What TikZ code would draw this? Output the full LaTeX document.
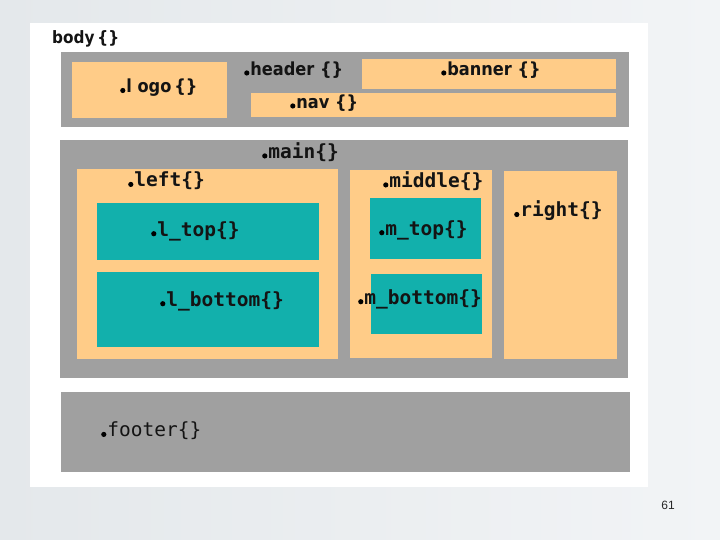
\documentclass[tikz,border=0pt]{standalone}
\usepackage{fontspec}
\setmainfont{DejaVu Sans}
\newfontfamily\condf{DejaVu Sans Condensed}
\newfontfamily\monof{DejaVu Sans Mono}
\newfontfamily\numf{Liberation Sans}
\definecolor{boxgray}{HTML}{A0A0A0}
\definecolor{peach}{HTML}{FFCC88}
\definecolor{teal2}{HTML}{12B0AC}
\definecolor{bgA}{HTML}{E4E8EB}
\definecolor{bgB}{HTML}{F2F4F6}
\newcommand\bdot{\tikz[baseline=0pt]\fill[black] (2.4pt,2.4pt) circle (2.6pt);\kern1pt}
\tikzset{
  blk/.style={anchor=north west, inner sep=0pt, outer sep=0pt, draw=none},
  graybox/.style={blk, fill=boxgray},
  peachbox/.style={blk, fill=peach},
  tealbox/.style={blk, fill=teal2},
  lbl/.style={anchor=west, inner sep=0pt, text=black!92},
  sanslbl/.style={lbl, font=\condf\bfseries\fontsize{18}{20}\selectfont},
  monolbl/.style={lbl, font=\monof\bfseries\fontsize{19.5}{21}\selectfont},
}
\begin{document}
\begin{tikzpicture}[x=1pt,y=-1pt]
\useasboundingbox (0,0) rectangle (720,540);
\shade[left color=bgA, right color=bgB] (0,0) rectangle (720,540);
% white panel
\node[blk, fill=white, minimum width=618pt, minimum height=464pt] (panel) at (30,23) {};
\node[anchor=west, inner sep=0pt, text=black!92, font=\condf\bfseries\fontsize{17}{20}\selectfont] (body) at (52,39) {body\,\{\}};
% header
\node[graybox, minimum width=568pt, minimum height=75pt] (header) at (61,52) {};
\node[peachbox, minimum width=155pt, minimum height=56pt] (logo) at (72,62) {};
\node[peachbox, minimum width=254pt, minimum height=30pt] (banner) at (362,59) {};
\node[peachbox, minimum width=365pt, minimum height=24pt] (nav) at (251,93) {};
\node[sanslbl] (logoT) at (120,88) {\bdot l ogo\,\{\}};
\node[sanslbl] (headerT) at (244,70) {\bdot header \{\}};
\node[sanslbl] (bannerT) at (441,70) {\bdot banner \{\}};
\node[sanslbl] (navT) at (290,103) {\bdot nav \{\}};
% main
\node[graybox, minimum width=568pt, minimum height=238pt] (main) at (60,140) {};
\node[peachbox, minimum width=261pt, minimum height=190pt] (left) at (77,169) {};
\node[tealbox, minimum width=222pt, minimum height=57pt] (ltop) at (97,203) {};
\node[tealbox, minimum width=222pt, minimum height=75pt] (lbottom) at (97,272) {};
\node[peachbox, minimum width=142pt, minimum height=188pt] (middle) at (350,170) {};
\node[tealbox, minimum width=111pt, minimum height=61pt] (mtop) at (370,198) {};
\node[tealbox, minimum width=111pt, minimum height=60pt] (mbottom) at (371,274) {};
\node[peachbox, minimum width=113pt, minimum height=188pt] (right) at (504,171) {};
\node[monolbl] (mainT) at (262,152) {\bdot main\{\}};
\node[monolbl] (leftT) at (128,181) {\bdot left\{\}};
\node[monolbl] (ltopT) at (151,231) {\bdot l\_top\{\}};
\node[monolbl] (lbottomT) at (160,301) {\bdot l\_bottom\{\}};
\node[monolbl] (middleT) at (383,181) {\bdot middle\{\}};
\node[monolbl] (mtopT) at (379,230) {\bdot m\_top\{\}};
\node[monolbl] (mbottomT) at (358,299) {\bdot m\_bottom\{\}};
\node[monolbl] (rightT) at (514,211) {\bdot right\{\}};
% footer
\node[graybox, minimum width=569pt, minimum height=80pt] (footer) at (61,392) {};
\node[lbl, font=\monof\fontsize{19.5}{21}\selectfont] (footerT) at (101,431) {\bdot footer\{\}};
% page number
\node[anchor=center, inner sep=0pt, font=\numf\fontsize{12}{14}\selectfont, text=black!85] (pnum) at (668,505) {61};
\end{tikzpicture}
\end{document}
